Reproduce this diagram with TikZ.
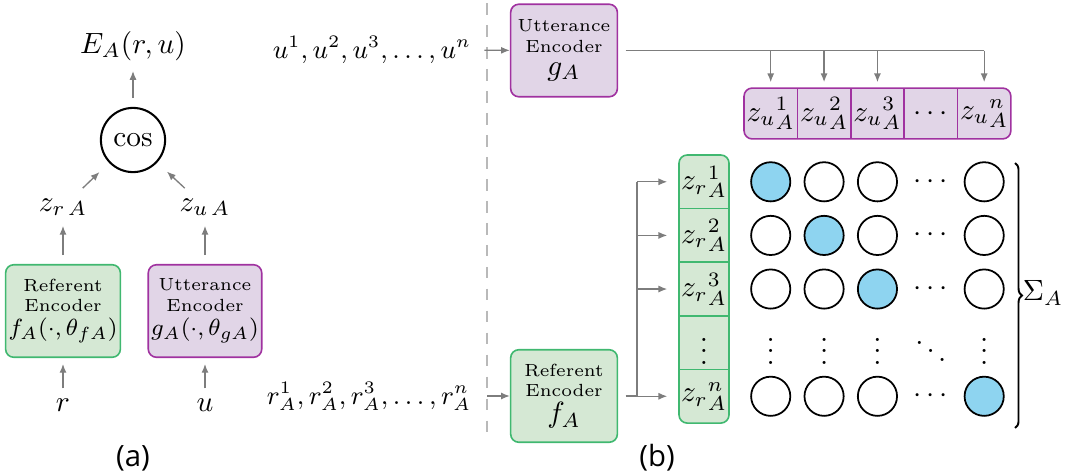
\documentclass[tikz,border=0pt]{standalone}
\usepackage[no-math]{fontspec}
\newfontfamily\panelfont{Open Sans}
\usetikzlibrary{positioning, arrows.meta, backgrounds, decorations.pathreplacing}

\definecolor{refline}{RGB}{64,184,112}
\definecolor{reffill}{RGB}{213,232,212}
\definecolor{uttline}{RGB}{160,50,160}
\definecolor{uttfill}{RGB}{225,213,231}
\definecolor{hitblue}{RGB}{142,212,240}
\definecolor{arrgray}{RGB}{125,125,125}
\definecolor{dashgray}{RGB}{185,185,185}

\newcommand{\encmath}[1]{{\fontsize{8.2}{9.5}\selectfont$#1$}}
\newcommand{\encname}[1]{{\fontsize{9.6}{11}\selectfont$#1$}}

\tikzset{
  encbox/.style={draw, rectangle, rounded corners=2.8pt, line width=0.55pt,
    minimum width=1.28cm, minimum height=1.11cm, align=center,
    inner xsep=1pt, font=\fontsize{6}{6.9}\selectfont},
  refbox/.style={encbox, draw=refline, fill=reffill},
  uttbox/.style={encbox, draw=uttline, fill=uttfill},
  seq/.style={font=\fontsize{9}{11}\selectfont},
  zucell/.style={rectangle, minimum width=0.64cm, minimum height=0.61cm,
    inner sep=0pt, outer sep=0pt},
  zrcell/.style={rectangle, minimum width=0.6cm, minimum height=0.643cm,
    inner sep=0pt, outer sep=0pt},
  sim/.style={circle, draw, line width=0.6pt, minimum size=0.47cm, inner sep=0pt},
  hit/.style={sim, fill=hitblue},
  conn/.style={arrgray, line width=0.45pt},
  arr/.style={conn, ->},
  dashline/.style={dashgray, line width=0.6pt, dash pattern=on 4pt off 3.5pt}
}

\begin{document}
\begin{tikzpicture}[x=0.012cm, y=-0.012cm, >={Latex[length=3pt,width=2.4pt]}]
    \useasboundingbox (0, 0) rectangle (1065, 474);

    % (a) Nodes
    \node at (133, 46) (E) {$E_A(r,u)$};
    \node at (133, 140) (cos) [circle, draw, line width=0.7pt, minimum size=0.77cm, inner sep=0pt] {$\cos$};
    \node at (63, 207) (zr) {$z_{r\,A}$};
    \node at (205, 207) (zu) {$z_{u\,A}$};
    \node at (63, 311) (fA) [refbox] {Referent\\Encoder\\[1.5pt]\encmath{f_A(\cdot,\theta_{fA})}};
    \node at (205, 311) (gA) [uttbox] {Utterance\\Encoder\\[1.5pt]\encmath{g_A(\cdot,\theta_{gA})}};
    \node at (63, 405) (r) {$r$};
    \node at (205, 405) (u) {$u$};
    \node at (133, 458) (capa) {\panelfont (a)};

    % (a) Arrows
    \draw[arr, shorten <=3pt] (cos) -- (E);
    \draw[arr, shorten >=4.5pt] (zr) -- (cos);
    \draw[arr, shorten >=4.5pt] (zu) -- (cos);
    \draw[arr, shorten <=3pt] (fA) -- (zr);
    \draw[arr, shorten <=3pt] (gA) -- (zu);
    \draw[arr, shorten >=2pt] (r) -- (fA);
    \draw[arr, shorten >=2pt] (u) -- (gA);

    % Separator
    \draw[dashline] (487, 3) -- (487, 440);

    % (b) Encoders
    \node at (372, 50) (useq) [seq] {$u^1, u^2, u^3, \ldots, u^n$};
    \node at (564, 50.5) (gAb) [uttbox] {Utterance\\Encoder\\[1pt]\encname{g_A}};
    \node at (369, 396) (rseq) [seq] {$r_A^1, r_A^2, r_A^3, \ldots, r_A^n$};
    \node at (564, 396) (fAb) [refbox] {Referent\\Encoder\\[1pt]\encname{f_A}};
    \node at (657, 458) (capb) {\panelfont (b)};

    % Utterance embeddings
    \node at (770.7, 113.5) (zu1) [zucell] {${z_u}^1_A$};
    \node (zu2) [zucell, right=0pt of zu1] {${z_u}^2_A$};
    \node (zu3) [zucell, right=0pt of zu2] {${z_u}^3_A$};
    \node (zu4) [zucell, right=0pt of zu3] {$\cdots$};
    \node (zu5) [zucell, right=0pt of zu4] {${z_u}^n_A$};
    \begin{scope}[on background layer]
        \draw[uttline, fill=uttfill, line width=0.55pt, rounded corners=2.8pt] (zu1.north west) rectangle (zu5.south east);
    \end{scope}
    \draw[uttline, line width=0.55pt] (zu1.north east) -- (zu1.south east);
    \draw[uttline, line width=0.55pt] (zu2.north east) -- (zu2.south east);
    \draw[uttline, line width=0.55pt] (zu3.north east) -- (zu3.south east);
    \draw[uttline, line width=0.55pt] (zu4.north east) -- (zu4.south east);

    % Referent embeddings
    \node at (704, 181.8) (zr1) [zrcell] {${z_r}^1_A$};
    \node (zr2) [zrcell, below=0pt of zr1] {${z_r}^2_A$};
    \node (zr3) [zrcell, below=0pt of zr2] {${z_r}^3_A$};
    \node (zr4) [zrcell, below=0pt of zr3] {$\vdots$};
    \node (zr5) [zrcell, below=0pt of zr4] {${z_r}^n_A$};
    \begin{scope}[on background layer]
        \draw[refline, fill=reffill, line width=0.55pt, rounded corners=2.8pt] (zr1.north west) rectangle (zr5.south east);
    \end{scope}
    \draw[refline, line width=0.55pt] (zr1.south west) -- (zr1.south east);
    \draw[refline, line width=0.55pt] (zr2.south west) -- (zr2.south east);
    \draw[refline, line width=0.55pt] (zr3.south west) -- (zr3.south east);
    \draw[refline, line width=0.55pt] (zr4.south west) -- (zr4.south east);

    % Arrows
    \draw[arr, shorten <=1pt] (useq) -- (gAb);
    \draw[arr, shorten <=2pt] (rseq) -- (fAb);
    \draw[conn, shorten <=2.5pt] (gAb.east) -- (gAb.east -| zu5);
    \draw[arr, shorten >=2pt] (gAb.east -| zu1) -- (zu1.north);
    \draw[arr, shorten >=2pt] (gAb.east -| zu2) -- (zu2.north);
    \draw[arr, shorten >=2pt] (gAb.east -| zu3) -- (zu3.north);
    \draw[arr, shorten >=2pt] (gAb.east -| zu5) -- (zu5.north);
    \coordinate (split) at (637, 396);
    \draw[conn, shorten <=2.5pt] (fAb.east) -- (split);
    \draw[conn] (split |- zr1) -- (split |- zr5);
    \draw[arr, shorten >=4pt] (split |- zr1) -- (zr1.west);
    \draw[arr, shorten >=4pt] (split |- zr2) -- (zr2.west);
    \draw[arr, shorten >=4pt] (split |- zr3) -- (zr3.west);
    \draw[arr, shorten >=4pt] (split |- zr5) -- (zr5.west);

    % Similarity matrix
    \node at (zu1 |- zr1) (s11) [hit] {};
    \node at (zu2 |- zr1) (s12) [sim] {};
    \node at (zu3 |- zr1) (s13) [sim] {};
    \node at (zu4 |- zr1) (s14) {$\cdots$};
    \node at (zu5 |- zr1) (s15) [sim] {};

    \node at (zu1 |- zr2) (s21) [sim] {};
    \node at (zu2 |- zr2) (s22) [hit] {};
    \node at (zu3 |- zr2) (s23) [sim] {};
    \node at (zu4 |- zr2) (s24) {$\cdots$};
    \node at (zu5 |- zr2) (s25) [sim] {};

    \node at (zu1 |- zr3) (s31) [sim] {};
    \node at (zu2 |- zr3) (s32) [sim] {};
    \node at (zu3 |- zr3) (s33) [hit] {};
    \node at (zu4 |- zr3) (s34) {$\cdots$};
    \node at (zu5 |- zr3) (s35) [sim] {};

    \node at (zu1 |- zr4) (s41) {$\vdots$};
    \node at (zu2 |- zr4) (s42) {$\vdots$};
    \node at (zu3 |- zr4) (s43) {$\vdots$};
    \node at (zu4 |- zr4) (s44) {$\ddots$};
    \node at (zu5 |- zr4) (s45) {$\vdots$};

    \node at (zu1 |- zr5) (s51) [sim] {};
    \node at (zu2 |- zr5) (s52) [sim] {};
    \node at (zu3 |- zr5) (s53) [sim] {};
    \node at (zu4 |- zr5) (s54) {$\cdots$};
    \node at (zu5 |- zr5) (s55) [hit] {};

    % Brace
    \draw[line width=0.65pt, decorate, decoration={brace, amplitude=2.4pt}] (1015, 163) -- (1015, 428);
    \node at (1043, 293) (sigma) {$\Sigma_A$};

\end{tikzpicture}
\end{document}
